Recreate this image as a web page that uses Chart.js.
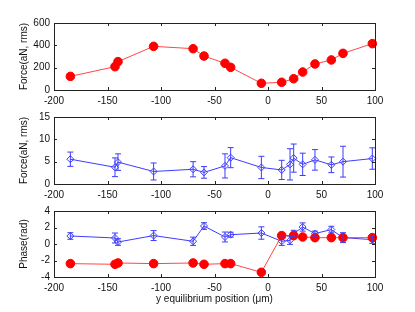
<!DOCTYPE html>
<html>
<head>
<meta charset="utf-8">
<script src="https://cdn.jsdelivr.net/npm/chart.js@4"></script>
<style>
  html, body { margin: 0; padding: 0; background: #fff; }
  #wrap { position: relative; width: 415px; height: 312px; }
  canvas { position: absolute; left: 0; }
</style>
</head>
<body>
<div id="wrap">
  <canvas id="c1" width="415" height="110" style="top:0px"></canvas>
  <canvas id="c2" width="415" height="104" style="top:100px"></canvas>
  <canvas id="c3" width="415" height="117" style="top:195px"></canvas>
</div>
<script>
// positions along y (um)
const xRed = [-184.7, -143, -140.2, -106.9, -70, -59.8, -40.2, -34.9, -6.2, 12.8, 24, 32.4, 43.9, 59.2, 70.1, 97.5];
const xBlue = [-184.7, -143, -140.2, -106.9, -70, -59.8, -40.2, -34.9, -6.2, 12.8, 20.6, 24, 32.4, 43.9, 59.2, 70.1, 97.5];

// top panel: force (aN rms), red
const forceRed = [122, 209, 254, 391, 370, 304, 239, 203, 60, 69, 101, 161, 233, 269, 328, 415];

// middle panel: force (aN rms), blue with error bars
const forceBlue = [5.55, 3.75, 4.9, 2.8, 3.3, 2.6, 4.05, 5.9, 3.7, 3.15, 4.4, 5.8, 4.4, 5.4, 4.3, 5.0, 5.7];
const forceBlueErr = [1.6, 2.1, 1.85, 1.9, 1.7, 1.3, 2.7, 2.25, 2.5, 2.15, 3.5, 3.15, 2.5, 2.3, 1.75, 3.45, 2.4];

// bottom panel: phase (rad)
const phaseRed = [-2.38, -2.46, -2.3, -2.38, -2.3, -2.46, -2.38, -2.38, -3.43, 1.02, 1.02, 0.85, 0.77, 0.77, 0.77, 0.77];
const phaseBlue = [0.97, 0.73, 0.24, 1.02, 0.33, 2.18, 0.85, 1.13, 1.33, 0.33, 0.45, 1.26, 2.06, 1.26, 1.75, 0.77, 0.53];
const phaseBlueErr = [0.4, 0.6, 0.4, 0.6, 0.5, 0.4, 0.6, 0.3, 0.75, 0.5, 0.5, 0.4, 0.5, 0.3, 0.4, 0.6, 0.45];

const xTicks = [-200, -150, -100, -50, 0, 50, 100];

const RED = '#ff0000';
const RED_LINE = 'rgba(255,50,50,0.9)';
const BLUE = '#3c3cff';
const FONT = { family: 'Liberation Sans, Arial, sans-serif', size: 10 };

function pts(xs, ys) {
  return xs.map((x, i) => ({ x: x, y: ys[i] }));
}

// error bars drawn through the chart's scales
const errorBars = {
  id: 'errorBars',
  afterDatasetsDraw(chart) {
    const ctx = chart.ctx;
    const xs = chart.scales.x, ys = chart.scales.y;
    chart.data.datasets.forEach(ds => {
      if (!ds.errors) return;
      ctx.save();
      ctx.strokeStyle = ds.borderColor;
      ctx.lineWidth = 1;
      ds.data.forEach((p, i) => {
        const px = xs.getPixelForValue(p.x);
        const top = ys.getPixelForValue(p.y + ds.errors[i]);
        const bot = ys.getPixelForValue(p.y - ds.errors[i]);
        ctx.beginPath();
        ctx.moveTo(px, top); ctx.lineTo(px, bot);
        ctx.moveTo(px - 3, top); ctx.lineTo(px + 3, top);
        ctx.moveTo(px - 3, bot); ctx.lineTo(px + 3, bot);
        ctx.stroke();
      });
      ctx.restore();
    });
  }
};

// matlab style box with inward ticks
const boxTicks = {
  id: 'boxTicks',
  afterDraw(chart) {
    const ctx = chart.ctx;
    const a = chart.chartArea;
    const xs = chart.scales.x, ys = chart.scales.y;
    ctx.save();
    ctx.strokeStyle = '#222';
    ctx.lineWidth = 1;
    ctx.beginPath();
    xs.ticks.forEach(t => {
      const px = Math.round(xs.getPixelForValue(t.value)) + 0.5;
      ctx.moveTo(px, a.bottom); ctx.lineTo(px, a.bottom - 3);
      ctx.moveTo(px, a.top); ctx.lineTo(px, a.top + 3);
    });
    ys.ticks.forEach(t => {
      const py = Math.round(ys.getPixelForValue(t.value)) + 0.5;
      ctx.moveTo(a.left, py); ctx.lineTo(a.left + 3, py);
      ctx.moveTo(a.right, py); ctx.lineTo(a.right - 3, py);
    });
    ctx.stroke();
    ctx.strokeRect(Math.round(a.left) + 0.5, Math.round(a.top) + 0.5,
      Math.round(a.right - a.left), Math.round(a.bottom - a.top));
    ctx.restore();
  }
};

function makeChart(id, datasets, yOpts, padTop, xAxisH, xTitle) {
  return new Chart(document.getElementById(id), {
    type: 'scatter',
    data: { datasets: datasets },
    options: {
      responsive: false,
      animation: false,
      events: [],
      layout: { padding: { top: padTop, left: 10, right: 40, bottom: 0 } },
      plugins: { legend: { display: false }, tooltip: { enabled: false } },
      scales: {
        x: {
          type: 'linear', min: -200, max: 100,
          afterBuildTicks: s => { s.ticks = xTicks.map(v => ({ value: v })); },
          afterFit: s => { s.height = xAxisH; },
          grid: { display: false, drawTicks: false },
          border: { display: false },
          ticks: { color: '#111', font: FONT, padding: 5, maxRotation: 0 },
          title: xTitle ? { display: true, text: xTitle, color: '#111', font: FONT, padding: { top: 0, bottom: 7 } } : { display: false }
        },
        y: {
          type: 'linear', min: yOpts.min, max: yOpts.max,
          afterBuildTicks: s => { s.ticks = yOpts.ticks.map(v => ({ value: v })); },
          afterFit: s => { s.width = 44; },
          grid: { display: false, drawTicks: false },
          border: { display: false },
          ticks: { color: '#111', font: FONT, padding: 4 },
          title: { display: true, text: yOpts.title, color: '#111', font: FONT, padding: { top: 8, bottom: 0 } }
        }
      }
    },
    plugins: [errorBars, boxTicks]
  });
}

makeChart('c1', [
  { data: pts(xRed, forceRed), showLine: true, borderColor: RED_LINE, borderWidth: 1,
    pointRadius: 4.3, pointBackgroundColor: RED, pointBorderColor: RED, clip: false }
], { min: 0, max: 600, ticks: [0, 200, 400, 600], title: 'Force(aN, rms)' }, 23, 20, null);

makeChart('c2', [
  { data: pts(xBlue, forceBlue), errors: forceBlueErr, showLine: true, borderColor: BLUE, borderWidth: 1,
    pointStyle: 'rectRot', pointRadius: 3.5, pointBackgroundColor: 'rgba(0,0,0,0)', pointBorderColor: BLUE, pointBorderWidth: 1, clip: false }
], { min: 0, max: 15, ticks: [0, 5, 10, 15], title: 'Force(aN, rms)' }, 17, 20, null);

makeChart('c3', [
  { data: pts(xRed, phaseRed), showLine: true, borderColor: RED_LINE, borderWidth: 1, order: 0,
    pointRadius: 4.3, pointBackgroundColor: RED, pointBorderColor: RED, clip: false },
  { data: pts(xBlue, phaseBlue), errors: phaseBlueErr, showLine: true, borderColor: BLUE, borderWidth: 1, order: 1,
    pointStyle: 'rectRot', pointRadius: 3.5, pointBackgroundColor: 'rgba(0,0,0,0)', pointBorderColor: BLUE, pointBorderWidth: 1, clip: false }
], { min: -4, max: 4, ticks: [-4, -2, 0, 2, 4], title: 'Phase(rad)' }, 16, 35, 'y equilibrium position (\u03bcm)');
</script>
</body>
</html>
